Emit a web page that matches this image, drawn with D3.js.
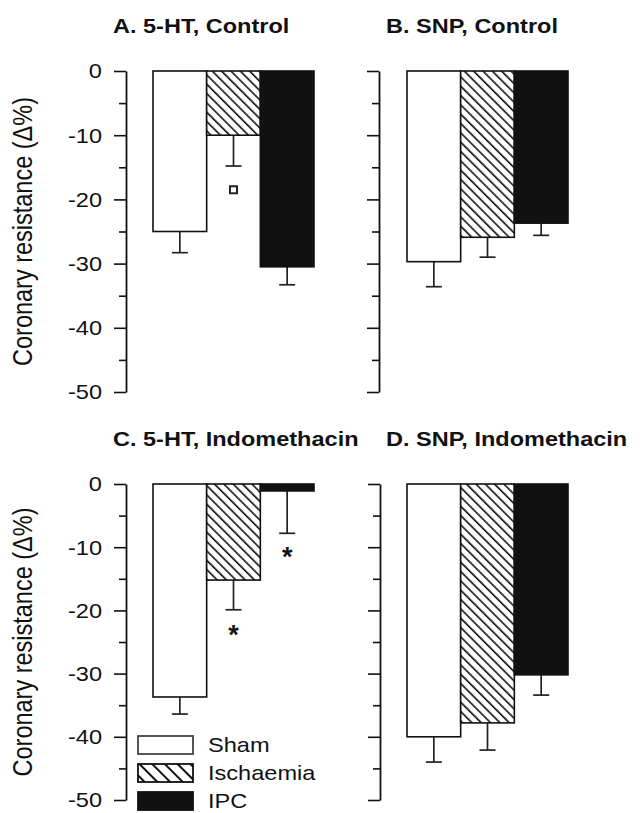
<!DOCTYPE html>
<html>
<head>
<meta charset="utf-8">
<script src="https://cdn.jsdelivr.net/npm/d3@7"></script>
<style>
  body { margin: 0; background: #fff; }
  text { font-family: 'Liberation Sans', Arial, sans-serif; fill: #111; }
</style>
</head>
<body>
<div class="chart"></div>
<script>
// chart data
const panelTitles = ['A. 5-HT, Control', 'B. SNP, Control', 'C. 5-HT, Indomethacin', 'D. SNP, Indomethacin'];
const groups = ['Sham', 'Ischaemia', 'IPC'];
const meansA = [-25.0, -10.0, -30.5];
const meansB = [-29.7, -25.9, -23.7];
const meansC = [-33.7, -15.2, -1.1];
const meansD = [-40.0, -37.8, -30.2];
const semA = [3.3, 4.8, 2.8];
const semB = [3.9, 3.1, 1.9];
const semC = [2.7, 4.7, 6.7];
const semD = [4.0, 4.3, 3.2];
const majorTicks = [0, -10, -20, -30, -40, -50];
const minorTicks = [-5, -15, -25, -35, -45];
const yLabel = 'Coronary resistance (\u0394%)';
// significance marks: panel index, group, y value, kind
const sigPanel = [0, 2, 2];
const sigGroup = ['Ischaemia', 'Ischaemia', 'IPC'];
const sigValue = [-18.5, -23.0, -10.6];
const sigKind = ['square', 'star', 'star'];

const means = [meansA, meansB, meansC, meansD];
const sems = [semA, semB, semC, semD];

// where each panel sits on the page
const layout = [
  { axisX: 126, x0: 153, x1: 314, top: 71, bottom: 392, titleX: 113, titleY: 33, labels: true },
  { axisX: 379, x0: 407, x1: 568, top: 71, bottom: 392, titleX: 386, titleY: 33, labels: false },
  { axisX: 126, x0: 153, x1: 314, top: 484, bottom: 800, titleX: 113, titleY: 446, labels: true },
  { axisX: 380, x0: 407, x1: 568, top: 484, bottom: 800, titleX: 386, titleY: 446, labels: false },
];

const width = 640;
const height = 813;
const ink = '#111';

const svg = d3.select('.chart').append('svg')
  .attr('width', width)
  .attr('height', height);

const defs = svg.append('defs');

function addHatch(id, gap, lw) {
  const p = defs.append('pattern')
    .attr('id', id)
    .attr('patternUnits', 'userSpaceOnUse')
    .attr('width', gap)
    .attr('height', gap)
    .attr('patternTransform', 'rotate(-45)');
  p.append('rect').attr('width', gap).attr('height', gap).attr('fill', '#fff');
  p.append('line')
    .attr('x1', 0).attr('y1', 0)
    .attr('x2', 0).attr('y2', gap)
    .attr('stroke', ink)
    .attr('stroke-width', lw);
}
addHatch('hatch', 6.6, 3.2);
addHatch('hatchLegend', 9, 4);

const fills = d3.scaleOrdinal()
  .domain(groups)
  .range(['#fff', 'url(#hatch)', ink]);
const legendFills = d3.scaleOrdinal()
  .domain(groups)
  .range(['#fff', 'url(#hatchLegend)', ink]);

layout.forEach((L, i) => {
  const x = d3.scaleBand().domain(groups).range([L.x0, L.x1]).padding(0);
  const y = d3.scaleLinear().domain([0, -50]).range([L.top, L.bottom]);

  const g = svg.append('g');

  // title
  g.append('text')
    .attr('transform', `translate(${L.titleX}, ${L.titleY}) scale(1.12, 1)`)
    .attr('font-size', 21)
    .attr('font-weight', 'bold')
    .text(panelTitles[i]);

  // minor ticks
  g.append('g')
    .attr('transform', `translate(${L.axisX}, 0)`)
    .call(d3.axisLeft(y).tickValues(minorTicks).tickSize(7).tickSizeOuter(0).tickFormat(''))
    .call((a) => a.select('.domain').remove())
    .selectAll('line').attr('stroke', ink).attr('stroke-width', 1.6);

  // major ticks + line
  const ax = g.append('g')
    .attr('transform', `translate(${L.axisX}, 0)`)
    .call(d3.axisLeft(y).tickValues(majorTicks).tickSize(12).tickSizeOuter(0)
      .tickFormat((d) => { return L.labels ? String(d) : ''; }));
  ax.select('.domain').attr('stroke', ink).attr('stroke-width', 1.8);
  ax.selectAll('line').attr('stroke', ink).attr('stroke-width', 1.6);
  ax.selectAll('text')
    .attr('x', 0)
    .attr('dy', '0.34em')
    .attr('transform', 'translate(-24, 0) scale(1.18, 1)')
    .attr('font-size', 20)
    .attr('font-family', "'Liberation Sans', Arial, sans-serif")
    .attr('fill', ink);

  if (L.labels) {
    const cy = (L.top + L.bottom) / 2;
    g.append('text')
      .attr('transform', `translate(32, ${cy}) scale(1.15, 1) rotate(-90)`)
      .attr('text-anchor', 'middle')
      .attr('font-size', 23.5)
      .text(yLabel);
  }

  const rows = groups.map((k, j) => {
    return { group: k, mean: means[i][j], sem: sems[i][j] };
  });

  // error bars (downward only)
  const eb = g.selectAll('.err')
    .data(rows)
    .enter().append('g')
    .attr('class', 'err')
    .attr('stroke', '#222')
    .attr('stroke-width', 1.7);
  eb.append('line')
    .attr('x1', (d) => { return x(d.group) + x.bandwidth() / 2; })
    .attr('x2', (d) => { return x(d.group) + x.bandwidth() / 2; })
    .attr('y1', (d) => { return y(d.mean); })
    .attr('y2', (d) => { return y(d.mean - d.sem); });
  eb.append('line')
    .attr('x1', (d) => { return x(d.group) + x.bandwidth() / 2 - 8; })
    .attr('x2', (d) => { return x(d.group) + x.bandwidth() / 2 + 8; })
    .attr('y1', (d) => { return y(d.mean - d.sem); })
    .attr('y2', (d) => { return y(d.mean - d.sem); });

  // bars
  g.selectAll('.bar')
    .data(rows)
    .enter().append('rect')
    .attr('class', 'bar')
    .attr('x', (d) => { return x(d.group); })
    .attr('width', x.bandwidth())
    .attr('y', y(0))
    .attr('height', (d) => { return y(d.mean) - y(0); })
    .attr('fill', (d) => { return fills(d.group); })
    .attr('stroke', ink)
    .attr('stroke-width', 1.6);

  // significance marks
  sigPanel.forEach((p, k) => {
    if (p !== i) return;
    const cx = x(sigGroup[k]) + x.bandwidth() / 2;
    const cy = y(sigValue[k]);
    if (sigKind[k] === 'square') {
      g.append('rect')
        .attr('x', cx - 3.5).attr('y', cy - 3.5)
        .attr('width', 7).attr('height', 7)
        .attr('fill', '#fff')
        .attr('stroke', '#222')
        .attr('stroke-width', 2);
    } else {
      g.append('text')
        .attr('x', cx)
        .attr('y', cy + 15)
        .attr('text-anchor', 'middle')
        .attr('font-size', 27)
        .attr('font-weight', 'bold')
        .text('*');
    }
  });
});

// legend
const legend = svg.append('g').attr('transform', 'translate(138, 736)');
const item = legend.selectAll('.item')
  .data(groups)
  .enter().append('g')
  .attr('class', 'item')
  .attr('transform', (d, i) => { return `translate(0, ${i * 28})`; });
item.append('rect')
  .attr('width', 55)
  .attr('height', 18)
  .attr('fill', (d) => { return legendFills(d); })
  .attr('stroke', (d) => { return d === 'Sham' ? '#444' : ink; })
  .attr('stroke-width', 1.8);
item.append('text')
  .attr('transform', 'translate(70, 16) scale(1.15, 1)')
  .attr('font-size', 20.5)
  .text((d) => { return d; });
</script>
</body>
</html>
